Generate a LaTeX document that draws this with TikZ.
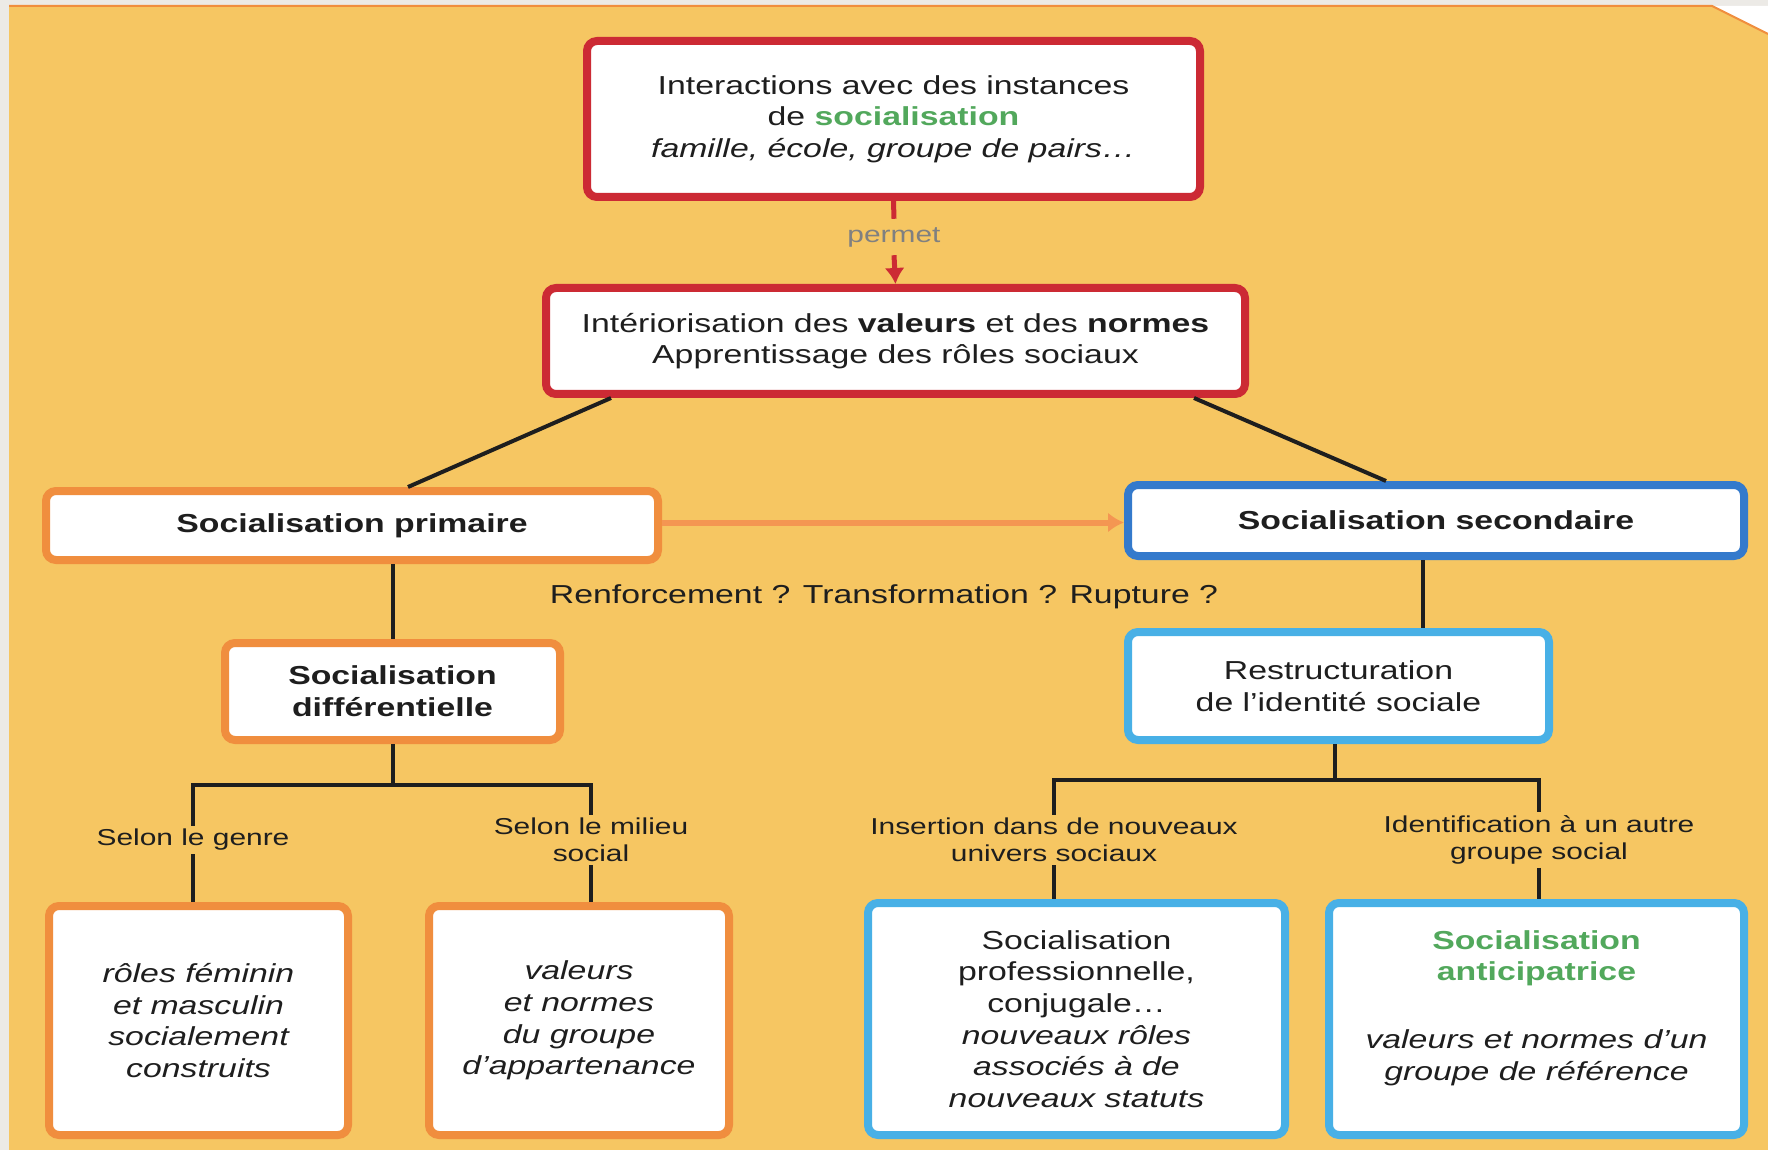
\documentclass[tikz,border=0pt]{standalone}
\usepackage{fontspec}
\setmainfont{Liberation Sans}[FakeStretch=1.3]
\usepackage{xcolor}
\usetikzlibrary{arrows.meta}

\definecolor{fondjaune}{RGB}{246,198,98}
\definecolor{fondgris}{RGB}{236,234,230}
\definecolor{rougecadre}{RGB}{204,42,52}
\definecolor{orangecadre}{RGB}{240,142,62}
\definecolor{orangefleche}{RGB}{244,150,82}
\definecolor{bleufonce}{RGB}{52,122,204}
\definecolor{bleuclair}{RGB}{72,176,230}
\definecolor{vertsocial}{RGB}{82,168,92}
\definecolor{grispermet}{RGB}{128,128,128}
\definecolor{textenoir}{RGB}{30,30,30}

\tikzset{
  cadre/.style={draw, line width=4pt, rounded corners=5pt, fill=white, align=center,
    inner sep=0pt, text=textenoir, font=\fontsize{13}{15.8}\selectfont},
  cadrerouge/.style={cadre, draw=rougecadre},
  cadreorange/.style={cadre, draw=orangecadre},
  cadrebleu/.style={cadre, draw=bleufonce},
  cadreciel/.style={cadre, draw=bleuclair},
  italique/.style={font=\fontsize{13}{15.8}\selectfont\itshape},
  trait/.style={line width=2pt, textenoir},
  etiquette/.style={align=center, inner sep=1.5pt, text=textenoir, font=\fontsize{11.5}{13.5}\selectfont}
}

\begin{document}
\begin{tikzpicture}[x=0.5pt, y=-0.5pt, >={Latex[length=8pt,width=10pt]}]
    \useasboundingbox (0,0) rectangle (1768,1150);

    % Page background
    \fill[fondgris] (0,0) rectangle (1768,1150);
    \fill[fondjaune] (9,6) -- (1712,6) -- (1768,34) -- (1768,1150) -- (9,1150) -- cycle;
    \fill[white] (1712,6) -- (1768,6) -- (1768,34) -- cycle;
    \draw[orangecadre, line width=1pt] (9,6) -- (1712,6) -- (1768,34);

    % Instances and interiorisation
    \node[cadrerouge, minimum width=306.5pt, minimum height=78pt] (inter) at (893.5,119)
        {Interactions avec des instances\\
         de \textcolor{vertsocial}{\textbf{socialisation}}\\
         \textit{famille, école, groupe de pairs…}};
    \node[cadrerouge, minimum width=349.5pt, minimum height=53pt] (interio) at (895.5,341)
        {Intériorisation des \textbf{valeurs} et des \textbf{normes}\\
         Apprentissage des rôles sociaux};
    \node[etiquette, text=grispermet, inner sep=4pt] (permet) at (894,237) {permet};
    \draw[rougecadre, line width=2.5pt] (inter.south) -- (permet.north);
    \draw[->, rougecadre, line width=2.5pt] (permet.south) -- (interio.north);

    % Primary and secondary socialisation
    \node[cadreorange, minimum width=306pt, minimum height=34.5pt] (prim) at (352,525.5)
        {\textbf{Socialisation primaire}};
    \node[cadrebleu, minimum width=308pt, minimum height=35.5pt] (sec) at (1436,520.5)
        {\textbf{Socialisation secondaire}};
    \draw[trait] ([shift={(69,0)}]interio.south west) -- ([shift={(366,0)}]prim.north west);
    \draw[trait] ([shift={(-55,0)}]interio.south east) -- ([shift={(262,0)}]sec.north west);
    \draw[->, orangefleche, line width=3pt] ([yshift=1.5pt]prim.east) -- ([yshift=1.5pt]prim.east -| sec.west);
    \node[etiquette, font=\fontsize{13}{15.8}\selectfont] (rtr) at (884,597)
        {Renforcement ? Transformation ? Rupture ?};

    % Differential socialisation
    \node[cadreorange, minimum width=167.5pt, minimum height=48.5pt] (diff) at (392.5,691.5)
        {\textbf{Socialisation}\\ \textbf{différentielle}};
    \draw[trait] (diff.north |- prim.south) -- (diff.north);
    \node[etiquette] (genre) at (193,840) {Selon le genre};
    \node[etiquette] (milieu) at (591,840) {Selon le milieu\\ social};
    \draw[trait] (diff.south) -- ++(0,41) -| (genre.north);
    \draw[trait] (diff.south) ++(0,41) -| (milieu.north);
    \node[cadreorange, italique, minimum width=149.5pt, minimum height=114.5pt] (roles) at (198.5,1020.5)
        {rôles féminin\\ et masculin\\ socialement\\ construits};
    \node[cadreorange, italique, minimum width=150pt, minimum height=114.5pt] (appart) at (579,1020.5)
        {valeurs\\ et normes\\ du groupe\\ d’appartenance};
    \draw[trait] (genre.south) -- (genre.south |- roles.north);
    \draw[trait] (milieu.south) -- (milieu.south |- appart.north);

    % Restructuring of social identity
    \node[cadreciel, minimum width=210.5pt, minimum height=54pt] (restr) at (1338.5,686)
        {Restructuration\\ de l’identité sociale};
    \draw[trait] ([xshift=-6.5pt]sec.south) -- ([xshift=-6.5pt]sec.south |- restr.north);
    \node[etiquette] (insert) at (1054,840) {Insertion dans de nouveaux\\ univers sociaux};
    \node[etiquette] (ident) at (1539,840) {Identification à un autre\\ groupe social};
    \draw[trait] ([xshift=-2pt]restr.south) -- ++(0,36) -| (insert.north);
    \draw[trait] ([xshift=-2pt]restr.south) ++(0,36) -| (ident.north);
    \node[cadreciel, minimum width=208.5pt, minimum height=116pt] (prof) at (1076.5,1019)
        {Socialisation\\ professionnelle,\\ conjugale…\\
         \textit{nouveaux rôles}\\ \textit{associés à de}\\ \textit{nouveaux statuts}};
    \node[cadreciel, minimum width=207.5pt, minimum height=116pt] (antic) at (1536.5,1019)
        {\textcolor{vertsocial}{\textbf{Socialisation}}\\
         \textcolor{vertsocial}{\textbf{anticipatrice}}\\[18pt]
         \textit{valeurs et normes d’un}\\ \textit{groupe de référence}\\[-2pt]};
    \draw[trait] (insert.south) -- (insert.south |- prof.north);
    \draw[trait] (ident.south) -- (ident.south |- antic.north);
\end{tikzpicture}
\end{document}
